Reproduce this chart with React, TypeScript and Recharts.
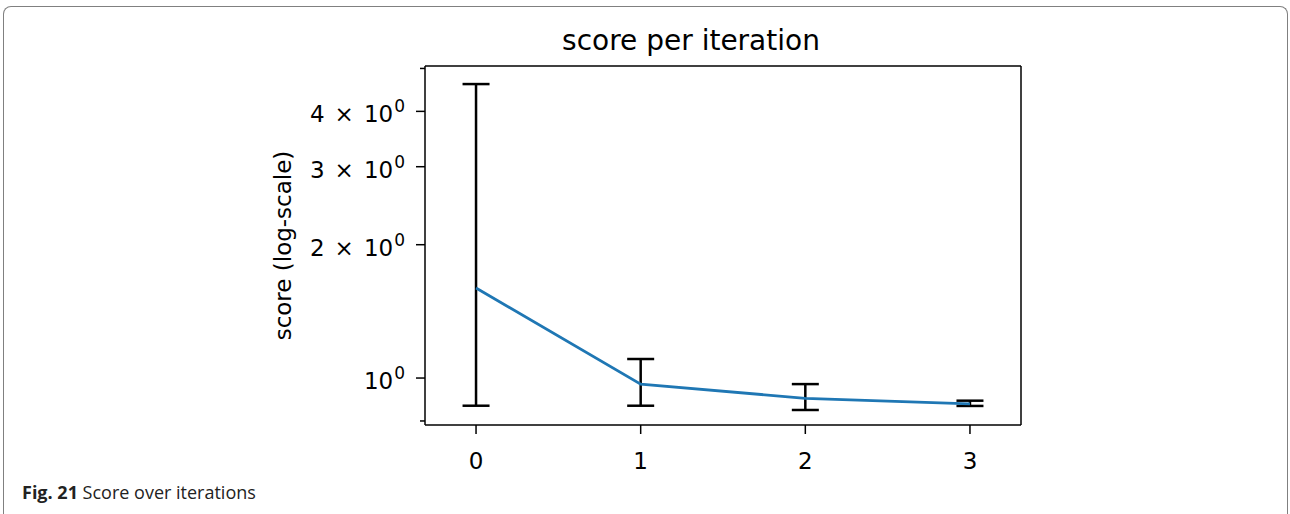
import { ComposedChart, Line, XAxis, YAxis, ErrorBar } from "recharts";

const iterations = [0, 1, 2, 3];
const meanScore = [1.597, 0.969, 0.9, 0.874];
const lowScore = [0.866, 0.866, 0.847, 0.865];
const highScore = [4.61, 1.104, 0.969, 0.889];
const yMajorTicks = [1, 2, 3, 4];
const yMinorTicks = [0.8, 0.9, 5];
const xTicks = [0, 1, 2, 3];

const data = iterations.map((it, i) => ({
  it,
  score: meanScore[i],
  err: [meanScore[i] - lowScore[i], highScore[i] - meanScore[i]],
}));

const yTicks = [...yMinorTicks, ...yMajorTicks].sort((a, b) => a - b);
const font = "DejaVu Sans";

function YTick({ x, y, payload }: any) {
  const v = payload.value;
  const major = yMajorTicks.includes(v);
  return (
    <g>
      <line x1={x - (major ? 9 : 5)} x2={x} y1={y} y2={y} stroke="#000" strokeWidth={1.5} />
      {major && (
        <text x={x - 20} y={y + 11} textAnchor="end" fontSize={23} fill="#000" fontFamily={font}>
          {v === 1 ? (
            "10"
          ) : (
            <>
              {v}
              <tspan dx={10}>×</tspan>
              <tspan dx={10}>10</tspan>
            </>
          )}
          <tspan dx={1} dy={-10} fontSize={17}>0</tspan>
        </text>
      )}
    </g>
  );
}

function XTick({ x, y, payload }: any) {
  return (
    <g>
      <line x1={x} x2={x} y1={y} y2={y + 9} stroke="#000" strokeWidth={1.5} />
      <text x={x} y={y + 43.5} textAnchor="middle" fontSize={23} fill="#000" fontFamily={font}>
        {payload.value}
      </text>
    </g>
  );
}

export default function App() {
  return (
    <div style={{ position: "absolute", left: 0, top: 0, width: 1290, height: 514, overflow: "hidden", background: "#fff" }}>
      <div
        style={{
          position: "absolute",
          left: 3,
          top: 6,
          width: 1283,
          height: 530,
          borderTop: "1.5px solid #808080",
          borderLeft: "1.5px solid #808080",
          borderRight: "1.5px solid #808080",
          borderTopLeftRadius: 8,
          borderTopRightRadius: 8,
        }}
      />
      <div style={{ position: "absolute", left: 0, top: 0 }}>
        <ComposedChart width={1290} height={514} data={data} margin={{ top: 65, right: 268, bottom: 49, left: 345 }}>
          <XAxis
            dataKey="it"
            type="number"
            domain={[-0.31, 3.31]}
            ticks={xTicks}
            allowDataOverflow
            height={40}
            tickSize={0}
            tickMargin={0}
            tickLine={false}
            tick={<XTick />}
            axisLine={{ stroke: "#000", strokeWidth: 1.5 }}
          />
          <XAxis
            xAxisId="top"
            orientation="top"
            type="number"
            domain={[-0.31, 3.31]}
            height={1}
            tick={false}
            tickLine={false}
            axisLine={{ stroke: "#000", strokeWidth: 1.5 }}
          />
          <YAxis
            scale="log"
            type="number"
            domain={[0.7834, 5.064]}
            allowDataOverflow
            ticks={yTicks}
            width={80}
            tickSize={0}
            tickMargin={0}
            tickLine={false}
            tick={<YTick />}
            axisLine={{ stroke: "#000", strokeWidth: 1.5 }}
          />
          <YAxis
            yAxisId="right"
            orientation="right"
            width={1}
            tick={false}
            tickLine={false}
            axisLine={{ stroke: "#000", strokeWidth: 1.5 }}
          />
          <Line
            dataKey="score"
            stroke="#1f77b4"
            strokeWidth={2.8}
            dot={false}
            isAnimationActive={false}
          >
            <ErrorBar dataKey="err" direction="y" width={13.5} stroke="#000" strokeWidth={2.5} isAnimationActive={false} />
          </Line>
        </ComposedChart>
      </div>
      <svg width={1290} height={514} style={{ position: "absolute", left: 0, top: 0, pointerEvents: "none" }}>
        <text x={691} y={49.5} textAnchor="middle" fontSize={28} fontFamily={font} fill="#000">
          score per iteration
        </text>
        <text
          x={0}
          y={0}
          transform="translate(291 245.5) rotate(-90)"
          textAnchor="middle"
          fontSize={23}
          fontFamily={font}
          fill="#000"
        >
          score (log-scale)
        </text>
        <text x={22} y={499} fontSize={18} fontFamily="Open Sans" fill="#222">
          <tspan fontWeight="bold">Fig. 21</tspan> Score over iterations
        </text>
      </svg>
    </div>
  );
}
